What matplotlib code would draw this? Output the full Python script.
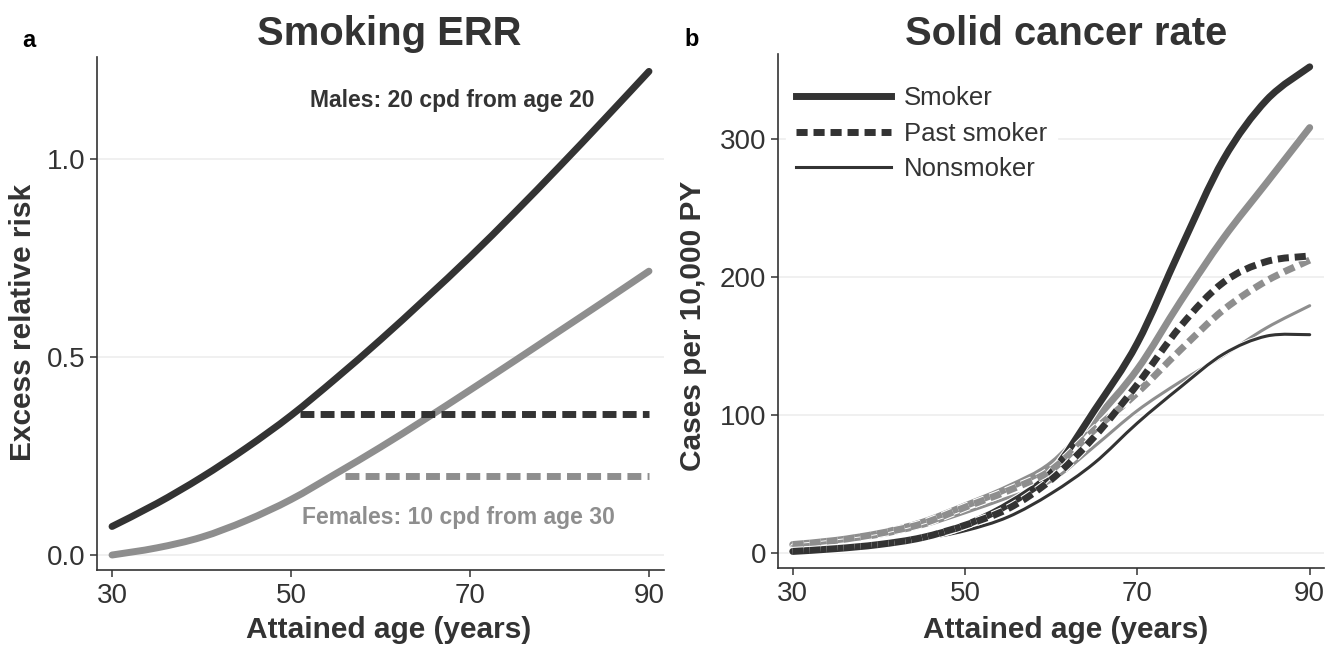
import matplotlib
matplotlib.use("Agg")
import matplotlib.pyplot as plt
import matplotlib.patheffects as pe
from matplotlib.path import Path
from matplotlib.patches import PathPatch
from matplotlib.lines import Line2D

plt.rcParams['font.family'] = ['Liberation Sans', 'DejaVu Sans']

# ---------------- data ----------------
ages = [30, 35, 40, 45, 50, 55, 60, 65, 70, 75, 80, 85, 90]

# panel a: excess relative risk
err_male = [0.072, 0.130, 0.196, 0.270, 0.352, 0.445, 0.543, 0.646, 0.752, 0.864, 0.98, 1.099, 1.22]
err_female = [0.0, 0.018, 0.045, 0.087, 0.14, 0.205, 0.272, 0.343, 0.416, 0.49, 0.565, 0.64, 0.716]
past_male_ages = [51, 90]
past_male_err = [0.355, 0.355]
past_female_ages = [56, 90]
past_female_err = [0.2, 0.2]

# panel b: solid cancer rate (cases per 10,000 PY)
smoker_male = [1, 3, 6, 11, 20, 35, 58, 103, 152, 220, 285, 328, 352]
smoker_female = [6, 9, 14, 22, 34, 47, 64, 96, 133, 182, 228, 268, 308]
past_male = [1, 3, 6, 11, 20, 32, 53, 84, 122, 164, 196, 211, 215]
past_female = [6, 9, 14, 21, 33, 45, 60, 89, 116, 147, 176, 197, 212]
non_male = [1, 3, 6, 10, 16, 26, 43, 65, 94, 120, 144, 157, 158]
non_female = [5, 8, 12, 19, 29, 40, 52, 77, 103, 124, 143, 163, 179]

legend_labels = ['Smoker', 'Past smoker', 'Nonsmoker']
xticks = [30, 50, 70, 90]
yticks_a = [0.0, 0.5, 1.0]
yticks_a_labels = ['0.0', '0.5', '1.0']
yticks_b = [0, 100, 200, 300]

# ---------------- style ----------------
DARK = '#333333'
GRAY = '#8e8e8e'
GRID = '#efefef'

W, H = 1331, 649
fig = plt.figure(figsize=(W / 100, H / 100), dpi=100)

axA = fig.add_axes([97 / W, 1 - 570 / H, 567 / W, 513 / H])
axB = fig.add_axes([778 / W, 1 - 568 / H, 546 / W, 514 / H])


def smooth_path(xs, ys):
    """Smooth (Catmull-Rom as cubic Bezier) path through the data points."""
    pts = list(zip(xs, ys))
    n = len(pts)
    verts = [pts[0]]
    codes = [Path.MOVETO]
    for i in range(n - 1):
        p0 = pts[i - 1] if i > 0 else pts[i]
        p1 = pts[i]
        p2 = pts[i + 1]
        p3 = pts[i + 2] if i + 2 < n else pts[i + 1]
        c1 = (p1[0] + (p2[0] - p0[0]) / 6, p1[1] + (p2[1] - p0[1]) / 6)
        c2 = (p2[0] - (p3[0] - p1[0]) / 6, p2[1] - (p3[1] - p1[1]) / 6)
        verts += [c1, c2, p2]
        codes += [Path.CURVE4] * 3
    return Path(verts, codes)


def curve(ax, xs, ys, color, lw, dashes=None, outline=0.0, z=2):
    kw = dict(fill=False, edgecolor=color, lw=lw, zorder=z, joinstyle='round')
    if dashes is not None:
        kw['linestyle'] = (0, dashes)
        kw['capstyle'] = 'butt'
    else:
        kw['capstyle'] = 'round'
    patch = PathPatch(smooth_path(xs, ys), **kw)
    if outline > 0:
        patch.set_path_effects([pe.Stroke(linewidth=lw + outline, foreground='white'),
                                pe.Normal()])
    ax.add_patch(patch)
    return patch


def style_axes(ax):
    for s in ['top', 'right']:
        ax.spines[s].set_visible(False)
    for s in ['left', 'bottom']:
        ax.spines[s].set_color(DARK)
        ax.spines[s].set_linewidth(1.2)
    ax.tick_params(axis='both', which='major', direction='out', length=5,
                   width=1.1, color=DARK, labelcolor=DARK, labelsize=20)
    ax.tick_params(axis='x', pad=4.3)
    ax.tick_params(axis='y', pad=3.6)
    ax.set_xticks(xticks)
    ax.set_xticklabels([str(t) for t in xticks])


thick = 5.0
thin = 2.2
dash_a = (2.0, 0.9)
dash_b = (1.6, 0.85)

# ---------------- panel a ----------------
style_axes(axA)
axA.set_xlim(28.32, 91.68)
axA.set_ylim(-0.0378, 1.2563)
axA.set_yticks(yticks_a)
axA.set_yticklabels(yticks_a_labels)
for y in yticks_a:
    axA.axhline(y, color=GRID, lw=1.3, zorder=0)

curve(axA, ages, err_female, GRAY, thick, z=2)
curve(axA, ages, err_male, DARK, thick, z=3)
axA.plot(past_male_ages, past_male_err, color=DARK, lw=thick, dashes=dash_a,
         dash_capstyle='butt', zorder=4)
axA.plot(past_female_ages, past_female_err, color=GRAY, lw=thick, dashes=dash_a,
         dash_capstyle='butt', zorder=4)

axA.text(68.0, 1.146, 'Males: 20 cpd from age 20', color=DARK, fontsize=16.5,
         fontweight='bold', ha='center', va='center')
axA.text(68.7, 0.094, 'Females: 10 cpd from age 30', color=GRAY, fontsize=16.5,
         fontweight='bold', ha='center', va='center')

axA.set_xlabel('Attained age (years)', fontsize=21.5, fontweight='bold', color=DARK, va='baseline')
axA.xaxis.set_label_coords((389 - 97) / 567, (570 - 638) / 513)
axA.set_ylabel('Excess relative risk', fontsize=21.5, fontweight='bold', color=DARK, va='center')
axA.yaxis.set_label_coords((23.4 - 97) / 567, (570 - 322) / 513)

# ---------------- panel b ----------------
style_axes(axB)
axB.set_xlim(28.29, 91.66)
axB.set_ylim(-11.0, 361.3)
axB.set_yticks(yticks_b)
for y in yticks_b:
    axB.axhline(y, color=GRID, lw=1.3, zorder=0)

curve(axB, ages, smoker_female, GRAY, thick, outline=1.5, z=2)
curve(axB, ages, non_female, GRAY, thin, outline=1.3, z=3)
curve(axB, ages, non_male, DARK, thin, outline=1.3, z=3)
curve(axB, ages, smoker_male, DARK, thick, outline=1.5, z=4)
curve(axB, ages, past_female, GRAY, thick, dashes=dash_b, outline=1.5, z=5)
curve(axB, ages, past_male, DARK, thick, dashes=dash_b, outline=1.5, z=6)

h1 = Line2D([], [], color=DARK, lw=thick)
h2 = Line2D([], [], color=DARK, lw=thick, dashes=dash_b, dash_capstyle='butt')
h3 = Line2D([], [], color=DARK, lw=thin)
leg = axB.legend([h1, h2, h3], legend_labels, loc='upper left',
                 bbox_to_anchor=(0.0, 1.0 - 14 / 514), fontsize=18.5,
                 frameon=True, framealpha=1, edgecolor='white', facecolor='white',
                 handlelength=3.7, handletextpad=0.5, labelspacing=0.45,
                 borderaxespad=0.3, borderpad=0.4, fancybox=False)
for t in leg.get_texts():
    t.set_color(DARK)
leg.set_zorder(10)

axB.set_xlabel('Attained age (years)', fontsize=21.5, fontweight='bold', color=DARK, va='baseline')
axB.xaxis.set_label_coords((1066 - 778) / 546, (568 - 638) / 514)
axB.set_ylabel('Cases per 10,000 PY', fontsize=21.5, fontweight='bold', color=DARK, va='center')
axB.yaxis.set_label_coords((692.7 - 778) / 546, (568 - 326) / 514)

# ---------------- titles & panel letters ----------------
fig.text(389 / W, 1 - 45 / H, 'Smoking ERR', fontsize=28.8, fontweight='bold',
         color=DARK, ha='center', va='baseline')
fig.text(1066 / W, 1 - 45 / H, 'Solid cancer rate', fontsize=28.8, fontweight='bold',
         color=DARK, ha='center', va='baseline')
fig.text(22 / W, 1 - 47 / H, 'a', fontsize=17, fontweight='bold', color='black',
         ha='left', va='baseline')
fig.text(684 / W, 1 - 46.5 / H, 'b', fontsize=17, fontweight='bold', color='black',
         ha='left', va='baseline')

fig.savefig('out.png', dpi=100, facecolor='white')
